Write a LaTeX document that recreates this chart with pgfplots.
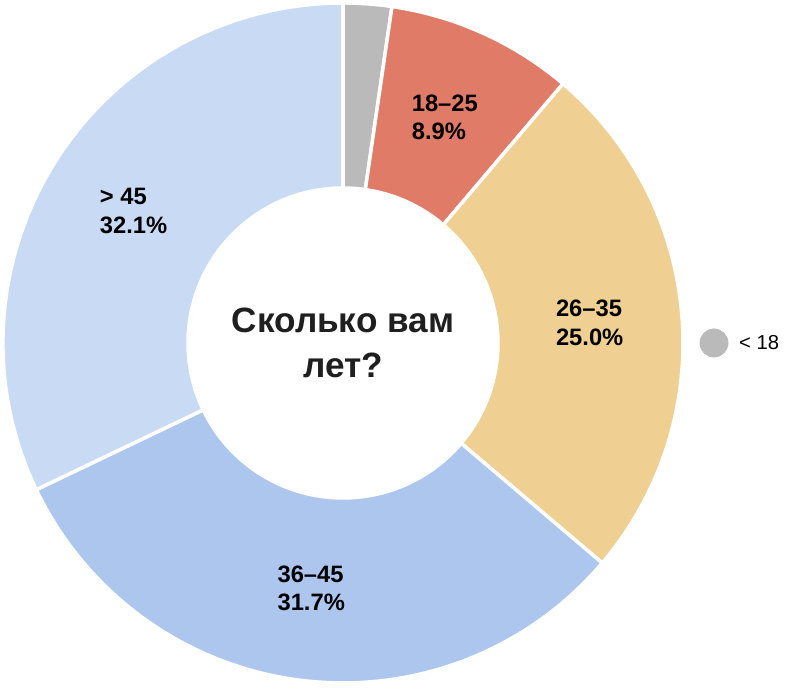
\documentclass[border=0pt]{standalone}
\usepackage{pgfplots}
\usepackage{pgfplotstable}
\pgfplotsset{compat=1.18}
\usepackage{fontspec}
\setmainfont{Liberation Sans}

\definecolor{cUnder}{HTML}{BABABA}
\definecolor{cA}{HTML}{E07B67}
\definecolor{cB}{HTML}{EFCF92}
\definecolor{cC}{HTML}{ADC6EE}
\definecolor{cD}{HTML}{C8DAF4}

% age groups, share in percent, clockwise from the top
\pgfplotstableread[col sep=comma]{
group,share,colour
< 18,2.3,cUnder
18–25,8.9,cA
26–35,25.0,cB
36–45,31.7,cC
> 45,32.1,cD
}\ages

\begin{document}
\begin{tikzpicture}
\begin{axis}[
  hide axis, scale only axis, clip=false,
  width=15.96cm, height=13.8cm,
  xmin=0, xmax=798, ymin=0, ymax=690,
]
\coordinate (ll) at (axis cs:0,0);
\coordinate (ur) at (axis cs:798,690);
\pgfplotstablegetrowsof{\ages}
\pgfmathtruncatemacro{\nrows}{\pgfplotsretval-1}
\def\cum{0}
\pgfplotsforeachungrouped \i in {0,...,\nrows}{
  \pgfplotstablegetelem{\i}{share}\of{\ages}\let\share\pgfplotsretval
  \pgfplotstablegetelem{\i}{colour}\of{\ages}\let\col\pgfplotsretval
  \pgfplotstablegetelem{\i}{group}\of{\ages}\let\grp\pgfplotsretval
  \pgfmathsetmacro{\sa}{90-3.6*\cum}
  \pgfmathsetmacro{\ea}{90-3.6*(\cum+\share)}
  \pgfmathsetmacro{\ma}{(\sa+\ea)/2}
  \edef\temp{\noexpand\path[fill=\col, draw=white, line width=2pt, shift={(axis cs:343,347)}]
    (\sa:6.8cm) arc[start angle=\sa, end angle=\ea, radius=6.8cm]
    -- (\ea:3.1cm) arc[start angle=\ea, end angle=\sa, radius=3.1cm] -- cycle;}
  \temp
  \ifnum\i>0
    \edef\temp{\noexpand\node[align=left, font=\noexpand\bfseries\noexpand\fontsize{13.5}{16}\noexpand\selectfont,
      shift={(axis cs:343,347)}] at (\ma:4.95cm)
      {\grp\noexpand\\\share\noexpand\%};}
    \temp
  \fi
  \pgfmathsetmacro{\cum}{\cum+\share}
}
\node[align=center, font=\bfseries\fontsize{20}{25.6}\selectfont, text=black!88]
  at (axis cs:343,347) {Сколько вам\\лет?};
\addplot[only marks, mark=*, mark size=8pt, color=cUnder] coordinates {(714,347)};
\node[anchor=west, font=\fontsize{11.5}{13}\selectfont] at (axis cs:733,347) {< 18};
\end{axis}
\pgfresetboundingbox
\useasboundingbox (ll) rectangle (ur);
\end{tikzpicture}
\end{document}
